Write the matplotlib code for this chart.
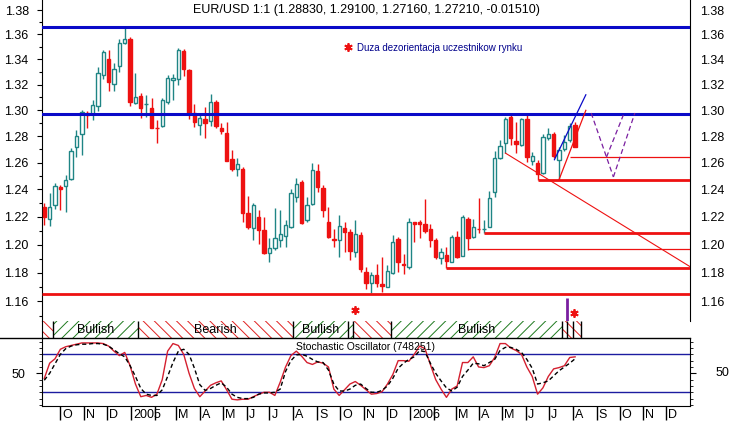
import numpy as np
import pandas as pd
import matplotlib
matplotlib.use('Agg')
import matplotlib.pyplot as plt
import matplotlib.dates as mdates
from matplotlib.ticker import FixedLocator, NullFormatter, FormatStrFormatter
from matplotlib.transforms import blended_transform_factory, offset_copy
from matplotlib.patches import Rectangle
from matplotlib.lines import Line2D

plt.rcParams['font.family'] = ['Liberation Sans', 'DejaVu Sans']
plt.rcParams['hatch.linewidth'] = 0.7

# ---------------- data ----------------
first_week = '2004-09-10'
opens = [1.2269, 1.2181, 1.2286, 1.2416, 1.2426, 1.2478, 1.2720, 1.2815, 1.2980, 1.2970,
         1.3035, 1.3274, 1.3400, 1.3202, 1.3348, 1.3530, 1.3565, 1.3058, 1.3110, 1.3045,
         1.3015, 1.2866, 1.2878, 1.3061, 1.3240, 1.3242, 1.3463, 1.3315, 1.2976, 1.2886,
         1.2932, 1.2915, 1.3066, 1.2865, 1.2827, 1.2627, 1.2550, 1.2550, 1.2230, 1.2116,
         1.2196, 1.2104, 1.1937, 1.1973, 1.2032, 1.2058, 1.2128, 1.2342, 1.2458, 1.2177,
         1.2293, 1.2535, 1.2409, 1.2164, 1.2040, 1.2032, 1.2121, 1.2090, 1.1945, 1.2068,
         1.1807, 1.1726, 1.1784, 1.1721, 1.1702, 1.1796, 1.2037, 1.1862, 1.1842, 1.2160,
         1.2165, 1.2148, 1.2109, 1.2032, 1.1902, 1.1925, 1.1878, 1.2052, 1.1918, 1.2181,
         1.2052, 1.2115, 1.2108, 1.2128, 1.2379, 1.2637, 1.2746, 1.2950, 1.2764, 1.2733,
         1.2930, 1.2612, 1.2597, 1.2523, 1.2789, 1.2815, 1.2620, 1.2703, 1.2771, 1.2883]
highs = [1.2303, 1.2372, 1.2450, 1.2433, 1.2508, 1.2708, 1.2848, 1.3002, 1.2995, 1.3079,
         1.3342, 1.3475, 1.3475, 1.3369, 1.3561, 1.3667, 1.3583, 1.3292, 1.3131, 1.3120,
         1.3093, 1.2925, 1.3093, 1.3276, 1.3285, 1.3493, 1.3481, 1.3323, 1.3048, 1.2979,
         1.3027, 1.3126, 1.3080, 1.2900, 1.2911, 1.2695, 1.2633, 1.2567, 1.2352, 1.2298,
         1.2249, 1.2196, 1.2044, 1.2262, 1.2250, 1.2173, 1.2401, 1.2483, 1.2470, 1.2347,
         1.2595, 1.2590, 1.2433, 1.2274, 1.2109, 1.2213, 1.2164, 1.2109, 1.2177, 1.2092,
         1.1842, 1.1807, 1.1861, 1.1909, 1.1854, 1.2068, 1.2052, 1.1930, 1.2190, 1.2164,
         1.2175, 1.2328, 1.2150, 1.2044, 1.1973, 1.1980, 1.2068, 1.2099, 1.2213, 1.2200,
         1.2181, 1.2335, 1.2177, 1.2389, 1.2688, 1.2771, 1.2950, 1.2963, 1.2907, 1.2938,
         1.2976, 1.2682, 1.2620, 1.2815, 1.2865, 1.2830, 1.2717, 1.2810, 1.2905, 1.2910]
lows = [1.2140, 1.2133, 1.2254, 1.2249, 1.2237, 1.2470, 1.2645, 1.2660, 1.2865, 1.2924,
        1.2995, 1.3245, 1.3152, 1.3152, 1.3302, 1.3520, 1.3033, 1.3050, 1.2938, 1.2950,
        1.2861, 1.2746, 1.2870, 1.3050, 1.3080, 1.3197, 1.3268, 1.2935, 1.2873, 1.2809,
        1.2784, 1.2878, 1.2861, 1.2817, 1.2610, 1.2535, 1.2500, 1.2164, 1.2109, 1.2032,
        1.2001, 1.1935, 1.1878, 1.1961, 1.1985, 1.1980, 1.2120, 1.2310, 1.2145, 1.2164,
        1.2286, 1.2384, 1.2201, 1.2050, 1.1984, 1.1909, 1.1949, 1.1890, 1.1913, 1.1807,
        1.1684, 1.1660, 1.1702, 1.1667, 1.1698, 1.1790, 1.1807, 1.1791, 1.1824, 1.2015,
        1.2044, 1.2080, 1.1980, 1.1900, 1.1861, 1.1835, 1.1875, 1.1905, 1.1915, 1.1961,
        1.2045, 1.2080, 1.2080, 1.2125, 1.2347, 1.2630, 1.2672, 1.2735, 1.2670, 1.2728,
        1.2607, 1.2580, 1.2473, 1.2515, 1.2771, 1.2633, 1.2473, 1.2688, 1.2756, 1.2716]
closes = [1.2196, 1.2274, 1.2426, 1.2401, 1.2470, 1.2688, 1.2802, 1.2984, 1.2960, 1.3040,
          1.3289, 1.3456, 1.3218, 1.3321, 1.3534, 1.3561, 1.3066, 1.3100, 1.3015, 1.3050,
          1.2866, 1.2860, 1.3079, 1.3250, 1.3248, 1.3475, 1.3320, 1.2970, 1.2911, 1.2937,
          1.2904, 1.3066, 1.2878, 1.2840, 1.2615, 1.2555, 1.2592, 1.2230, 1.2128, 1.2286,
          1.2104, 1.1941, 1.1973, 1.2044, 1.2076, 1.2142, 1.2376, 1.2441, 1.2153, 1.2286,
          1.2542, 1.2416, 1.2249, 1.2056, 1.2035, 1.2133, 1.2090, 1.1956, 1.2076, 1.1824,
          1.1730, 1.1784, 1.1730, 1.1707, 1.1814, 1.2020, 1.1878, 1.1855, 1.2164, 1.2150,
          1.2150, 1.2099, 1.2032, 1.1909, 1.1945, 1.1885, 1.2052, 1.1913, 1.2200, 1.2044,
          1.2124, 1.2110, 1.2115, 1.2339, 1.2637, 1.2725, 1.2930, 1.2784, 1.2739, 1.2930,
          1.2645, 1.2652, 1.2518, 1.2797, 1.2815, 1.2652, 1.2695, 1.2758, 1.2880, 1.2721]
stoch_k = [42, 66, 73, 88, 92, 94, 96, 98, 98, 98, 98, 97, 93, 85, 78, 83, 62, 33, 13, 15,
           12, 17, 40, 85, 97, 94, 80, 50, 26, 13, 22, 31, 35, 38, 24, 9, 8, 9, 9, 13,
           17, 20, 20, 15, 36, 60, 78, 85, 77, 67, 64, 68, 66, 60, 25, 15, 24, 33, 37, 31,
           24, 17, 18, 21, 33, 48, 70, 70, 69, 80, 93, 89, 64, 40, 25, 12, 25, 30, 67, 67,
           76, 60, 59, 62, 75, 97, 97, 90, 86, 80, 60, 45, 17, 27, 45, 57, 59, 62, 75, 76]
stoch_d = [39, 50, 65, 80, 89, 93, 95, 96, 96, 97, 97, 96, 93, 87, 81, 76, 62, 45, 26, 17,
           15, 15, 24, 45, 67, 85, 88, 80, 58, 32, 23, 26, 31, 35, 28, 17, 12, 10, 10, 12,
           17, 19, 19, 20, 25, 53, 70, 79, 80, 77, 72, 68, 67, 55, 33, 22, 22, 25, 31, 33,
           26, 20, 20, 23, 30, 42, 58, 66, 72, 76, 86, 84, 66, 50, 38, 27, 22, 28, 45, 55,
           66, 65, 62, 67, 72, 86, 91, 91, 88, 83, 72, 58, 33, 35, 38, 46, 54, 60, 66, 73]

title = 'EUR/USD 1:1 (1.28830, 1.29100, 1.27160, 1.27210, -0.01510)'
note = 'Duza dezorientacja uczestnikow rynku'
stoch_title = 'Stochastic Oscillator (748251)'
price_ticks = [1.16, 1.18, 1.20, 1.22, 1.24, 1.26, 1.28, 1.30, 1.32, 1.34, 1.36, 1.38]
price_minor = [1.15, 1.17, 1.19, 1.21, 1.23, 1.25, 1.27, 1.29, 1.31, 1.33, 1.35, 1.37]
month_labels = ['O', 'N', 'D', '2005', '', 'M', 'A', 'M', 'J', 'J', 'A', 'S', 'O', 'N', 'D',
                '2006', '', 'M', 'A', 'M', 'J', 'J', 'A', 'S', 'O', 'N', 'D']

blue_levels = [1.3663, 1.2973]
thick_red_levels = [1.1651, 1.1831, 1.2080, 1.2473]
thick_red_starts = ['2004-09-07', '2006-02-17', '2006-04-07', '2006-06-16']
thin_red_levels = [1.1967, 1.2642]
thin_red_starts = ['2006-03-17', '2006-07-28']
diag_dates = ['2006-05-05', '2007-01-01']
diag_prices = [1.2672, 1.1843]
rise_red_dates = ['2006-07-14', '2006-08-18']
rise_red_prices = [1.2473, 1.2999]
rise_blue_dates = ['2006-07-08', '2006-08-18']
rise_blue_prices = [1.2622, 1.3120]
proj_dates = [['2006-08-25', '2006-09-23'], ['2006-09-14', '2006-10-06'], ['2006-09-23', '2006-10-21']]
proj_prices = [[1.2978, 1.2493], [1.2642, 1.2963], [1.2493, 1.2978]]
star_dates = ['2005-10-21', '2006-08-02']
star_prices = [1.1542, 1.1523]
mark_date = '2006-07-24'
mark_prices = [1.1622, 1.1465]

band_edges = ['2004-09-07', '2004-09-21', '2005-01-10', '2005-08-01', '2005-10-12', '2005-10-18',
              '2005-12-07', '2006-07-18', '2006-07-24', '2006-08-01', '2006-08-12']
band_kind = ['bear', 'bull', 'bear', 'bull', 'bull', 'bear', 'bull', 'bear', 'bear', 'bear']
band_text = ['', 'Bullish', 'Bearish', 'Bullish', '', '', 'Bullish', '', '', '']

# ---------------- figure ----------------
W, H = 732, 423
fig = plt.figure(figsize=(W / 100, H / 100), dpi=100)
fig.patch.set_facecolor('white')


def fy(px):
    return 1 - px / H


L, R = 42 / W, 690 / W
ax = fig.add_axes([L, fy(321), R - L, 321 / H])
axb = fig.add_axes([L, fy(338), R - L, 17 / H], sharex=ax)
axs = fig.add_axes([L, fy(406), R - L, 68 / H], sharex=ax)

TEAL = '#1f8585'
RED = '#ee1111'
BLUE = '#0a0ac8'
PURPLE = '#7a1fa0'

dates = pd.date_range(first_week, periods=len(opens), freq='7D')
x = mdates.date2num(dates)
o, h, l, c = map(np.array, (opens, highs, lows, closes))
up = c >= o

d2n = lambda s: mdates.date2num(pd.Timestamp(s))

ax.set_yscale('log')
xlim = (d2n('2004-09-07'), d2n('2007-01-01'))
ax.set_xlim(*xlim)
ax.set_ylim(1.14653, 1.38825)

# candles
bw = 4.4
ax.vlines(x[up], l[up], h[up], color=TEAL, lw=1, zorder=3)
ax.vlines(x[~up], l[~up], h[~up], color=RED, lw=1, zorder=3)
ax.bar(x[up], c[up] - o[up], bottom=o[up], width=bw, facecolor='white',
       edgecolor=TEAL, lw=1, zorder=4)
ax.bar(x[~up], o[~up] - c[~up], bottom=c[~up], width=bw, facecolor=RED,
       edgecolor=RED, lw=1, zorder=4)

# levels
for lv in blue_levels:
    ax.axhline(lv, color=BLUE, lw=2.2, zorder=5)
for lv, st in zip(thick_red_levels, thick_red_starts):
    ax.hlines(lv, d2n(st), xlim[1], color=RED, lw=2.0, zorder=5)
for lv, st in zip(thin_red_levels, thin_red_starts):
    ax.hlines(lv, d2n(st), xlim[1], color=RED, lw=0.9, zorder=5)
ax.plot([d2n(s) for s in diag_dates], diag_prices, color=RED, lw=0.8, zorder=5)
ax.plot([d2n(s) for s in rise_red_dates], rise_red_prices, color=RED, lw=0.9, zorder=5)
ax.plot([d2n(s) for s in rise_blue_dates], rise_blue_prices, color=BLUE, lw=0.9, zorder=5)
for ds, ps in zip(proj_dates, proj_prices):
    ax.plot([d2n(s) for s in ds], ps, color=PURPLE, lw=0.9, ls=(0, (4, 2.5)), zorder=5)
for ds, ps in zip(star_dates, star_prices):
    ax.plot(d2n(ds), ps, marker=(6, 2, 0), ms=6, mew=1.3, color=RED, zorder=6, clip_on=False)
ax.vlines(d2n(mark_date), mark_prices[1], mark_prices[0], color=PURPLE, lw=2, zorder=6)

# texts
ax.text(0.5, 0.969, title, transform=ax.transAxes, ha='center', va='center', fontsize=9)
ax.plot(0.4722, 0.8536, transform=ax.transAxes, marker=(6, 2, 0), ms=6, mew=1.3, color=RED)
ax.text(0.486, 0.852, note, transform=ax.transAxes, ha='left', va='center', fontsize=7,
        color='#00008b')

# price axis styling
for sp in ('top', 'bottom'):
    ax.spines[sp].set_visible(False)
ax.tick_params(axis='x', bottom=False, labelbottom=False)
ax.yaxis.set_major_locator(FixedLocator(price_ticks))
ax.yaxis.set_major_formatter(FormatStrFormatter('%.2f'))
ax.yaxis.set_minor_locator(FixedLocator(price_minor))
ax.yaxis.set_minor_formatter(NullFormatter())
ax.tick_params(axis='y', which='major', direction='out', length=3.5, width=0.8,
               labelsize=9, pad=6, left=True, right=True, labelleft=True, labelright=False)
ax.tick_params(axis='y', which='minor', direction='out', length=2.5, width=0.8,
               left=True, right=True)
axr = ax.twinx()
axr.set_yscale('log')
axr.set_ylim(ax.get_ylim())
axr.yaxis.set_major_locator(FixedLocator(price_ticks))
axr.yaxis.set_major_formatter(FormatStrFormatter('%.2f'))
axr.yaxis.set_minor_locator(FixedLocator(price_minor))
axr.yaxis.set_minor_formatter(NullFormatter())
axr.tick_params(axis='y', which='both', right=False, left=False, labelright=True, labelsize=9, pad=4)
for sp in ('top', 'bottom', 'left', 'right'):
    axr.spines[sp].set_visible(False)

# band
axb.set_ylim(0, 1)
for sp in ('top', 'bottom', 'right'):
    axb.spines[sp].set_visible(False)
axb.tick_params(left=False, bottom=False, labelleft=False, labelbottom=False)
edges = [d2n(e) for e in band_edges]
for i, kind in enumerate(band_kind):
    col = '#1e7a1e' if kind == 'bull' else '#e02020'
    hat = '///' if kind == 'bull' else '\\\\\\'
    axb.add_patch(Rectangle((edges[i], 0), edges[i + 1] - edges[i], 1, facecolor='white',
                            edgecolor=col, hatch=hat, lw=0, zorder=1))
    if band_text[i]:
        axb.text((edges[i] + edges[i + 1]) / 2, 0.45, band_text[i], ha='center', va='center',
                 fontsize=9, zorder=3)
axb.vlines(edges[1:], 0, 1, color='black', lw=1, zorder=2)

# stochastic
axs.plot(x, stoch_k, color='#d42030', lw=1, zorder=3)
axs.plot(x, stoch_d, color='black', lw=1, ls=(0, (3, 2)), zorder=3)
axs.axhline(80, color='#1c1ca0', lw=1, zorder=2)
axs.axhline(20, color='#1c1ca0', lw=1, zorder=2)
axs.set_ylim(-1.7, 105.8)
axs.spines['top'].set_visible(False)
axs.yaxis.set_major_locator(FixedLocator([50]))
axs.yaxis.set_minor_locator(FixedLocator([0, 10, 20, 30, 40, 60, 70, 80, 90, 100]))
axs.tick_params(axis='y', which='major', direction='out', length=4, labelsize=9, pad=8,
                left=True, right=True, labelleft=True, labelright=False)
axs.tick_params(axis='y', which='minor', direction='out', length=2.5, left=True, right=True)
axs.text(0.5, 0.868, stoch_title, transform=axs.transAxes, ha='center', va='center', fontsize=7.5)
axs.text(1.04, (50 + 1.7) / 107.5, '50', transform=axs.transAxes, ha='left', va='center', fontsize=9)

months = pd.date_range('2004-10-01', '2006-12-01', freq='MS')
axs.set_xticks(mdates.date2num(months))
axs.tick_params(axis='x', direction='out', length=10, width=1, labelbottom=False)
bt = offset_copy(blended_transform_factory(axs.transData, axs.transAxes), fig=fig, x=2, y=0,
                 units='dots')
for d, lab in zip(months, month_labels):
    if lab:
        axs.text(mdates.date2num(d), -0.135, lab, transform=bt, ha='left', va='center',
                 fontsize=9, clip_on=False)

# separator line
fig.add_artist(Line2D([0, R], [fy(338), fy(338)], color='black', lw=1, transform=fig.transFigure))

fig.savefig('out.png', dpi=100)
